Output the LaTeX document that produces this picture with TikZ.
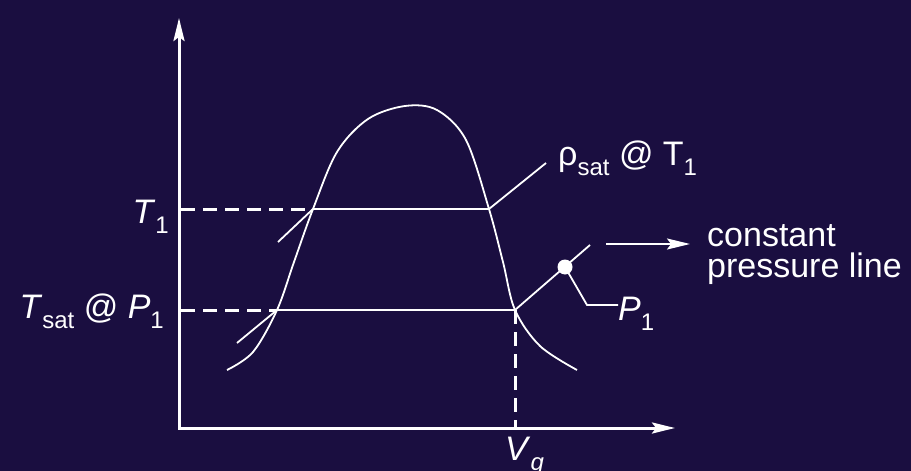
\documentclass[tikz,border=0pt]{standalone}
\usepackage{fontspec}
\setmainfont{Liberation Sans}
\usetikzlibrary{arrows.meta}
\definecolor{slidebg}{RGB}{26,14,64}
\newcommand{\lsub}[1]{\raisebox{-10pt}{\fontsize{24}{24}\selectfont #1}}

\begin{document}
\begin{tikzpicture}[x=1pt,y=-1pt,
  axis/.style={white,line width=3pt,{Stealth[length=23pt,width=11pt,inset=4pt]}-{Stealth[length=23pt,width=11pt,inset=4pt]}},
  guide/.style={white,line width=3pt,dash pattern=on 14pt off 8pt},
  thin/.style={white,line width=1.8pt},
  lbl/.style={white,font=\fontsize{34}{31}\selectfont,inner sep=0pt}]
\fill[slidebg] (0,0) rectangle (911,471);
\useasboundingbox (0,0) rectangle (911,471);
% axes
\coordinate (O) at (179,428);
\coordinate (ytop) at (179,18);
\coordinate (xend) at (675,428);
\draw[axis] (ytop) -- (O) -- (xend);
% points on the dome
\coordinate (a1) at (313,209);
\coordinate (b1) at (489,209);
\coordinate (a2) at (277,310);
\coordinate (b2) at (515,310);
\coordinate (t1) at (181,209);
\coordinate (tp) at (181,310);
\coordinate (vg) at (515,428);
\draw[thin] plot[smooth,tension=0.55] coordinates {(227,370) (253,352) (a2)
  (294,262) (a1) (337,152) (368,119) (405,106) (437,110) (466,140) (b1)
  (503,262) (b2) (540,346) (577,370)};
% dashed guides
\draw[guide] (t1) -- (a1);
\draw[guide] (tp) -- (a2);
\draw[guide] (b2) -- (vg);
\draw[thin] (a1) -- (b1);
\draw[thin] (a2) -- (b2);
% short pressure lines
\coordinate (l1) at (278,242);
\coordinate (l2) at (237,343);
\coordinate (r1) at (546,163);
\coordinate (r2) at (590,245);
\draw[thin] (l1) -- (a1);
\draw[thin] (l2) -- (a2);
\draw[thin] (b1) -- (r1);
\draw[thin] (b2) -- (r2);
\node[circle,fill=white,inner sep=0pt,minimum size=15pt] (p1dot) at (565,267) {};
% labels
\node[lbl,anchor=base east] (t1lbl) at (169,223) {\textit{T}\lsub{1}};
\node[lbl,anchor=base east] (tsatlbl) at (164,318) {\textit{T}\lsub{sat} @ \textit{P}\lsub{1}};
\node[lbl,anchor=base west] (rholbl) at (558,165) {ρ\lsub{sat} @ T\lsub{1}};
\node[lbl,anchor=base west] (p1lbl) at (618,320) {\textit{P}\lsub{1}};
\node[lbl,anchor=base west] (vglbl) at (505,460) {\textit{V}\lsub{\textit{g}}};
\node[lbl,anchor=base west] (cplbl) at (707,246) {constant};
\node[lbl,anchor=base west] (cplbl2) at (707,277) {pressure line};
\coordinate (p1k) at (587,305);
\coordinate (cpa) at (606,244);
\coordinate (cpb) at (690,244);
\draw[thin] (p1dot.center) -- (p1k) -- (p1lbl.west |- p1k);
\draw[white,line width=2pt,-{Stealth[length=23pt,width=11pt,inset=4pt]}] (cpa) -- (cpb);
\end{tikzpicture}
\end{document}
